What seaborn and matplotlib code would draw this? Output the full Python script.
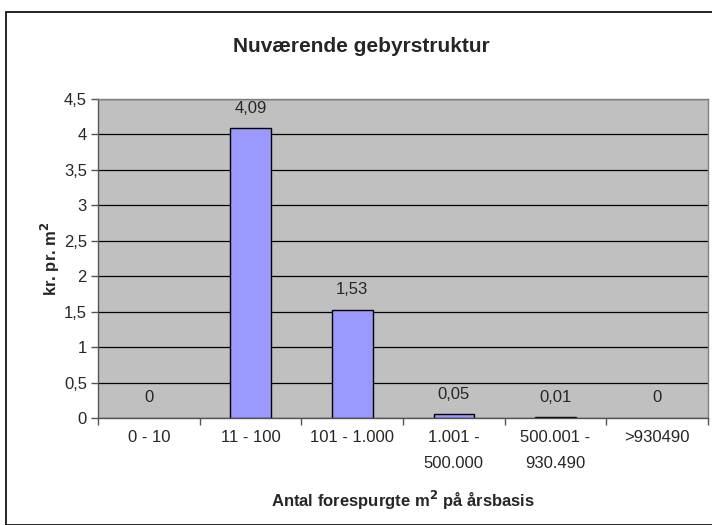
import matplotlib
matplotlib.use("Agg")
import matplotlib.pyplot as plt
import seaborn as sns
import numpy as np
import pandas as pd
from matplotlib.patches import Rectangle

# --- DATA ---
kategorier = ["0 - 10", "11 - 100", "101 - 1.000", "1.001 -\n500.000",
              "500.001 -\n930.490", ">930490"]
gebyr = [0, 4.09, 1.53, 0.05, 0.01, 0]
y_ticks = [0, 0.5, 1, 1.5, 2, 2.5, 3, 3.5, 4, 4.5]

df = pd.DataFrame({"kategori": kategorier, "gebyr": gebyr})

sns.set_theme(style="white")
plt.rcParams["font.family"] = ["Liberation Sans", "DejaVu Sans"]

fig = plt.figure(figsize=(7.12, 5.25), dpi=100)
ax = fig.add_axes([98 / 712, 1 - 418 / 525, (708 - 98) / 712, (418 - 99) / 525])

sns.barplot(data=df, x="kategori", y="gebyr", color="#9999FF", width=0.4,
            edgecolor="black", linewidth=1, saturation=1, ax=ax)
# søjler med værdien 0 vises ikke
for patch, v in zip(ax.patches, gebyr):
    if v == 0:
        patch.set_linewidth(0)

ax.set_facecolor("#C0C0C0")
ax.set_ylim(0, 4.5)
ax.set_xlim(-0.5, len(kategorier) - 0.5)
ax.set_yticks(y_ticks)
ax.set_yticklabels([f"{v:g}".replace(".", ",") for v in y_ticks], fontsize=12)
ax.yaxis.grid(True, color="black", linewidth=0.9)
ax.set_axisbelow(True)

# kategorietiketter uden tick, tick-streger mellem kategorier
ax.set_xticks(range(len(kategorier)))
ax.set_xticklabels(kategorier, fontsize=12, linespacing=1.85)
ax.set_xticks(np.arange(-0.5, len(kategorier)), minor=True)
ax.tick_params(axis="x", which="major", length=0, pad=9)
ax.tick_params(axis="x", which="minor", length=5, width=1, color="#555555",
               direction="out", bottom=True)
ax.tick_params(axis="y", length=5, width=1, color="#555555", direction="out",
               left=True, pad=3, labelsize=12)
for lbl in ax.get_xticklabels():
    lbl.set_verticalalignment("top")

for side in ["top", "right"]:
    ax.spines[side].set_color("#808080")
for side in ["left", "bottom"]:
    ax.spines[side].set_color("#555555")
for s in ax.spines.values():
    s.set_linewidth(1)

# værdietiketter
for i, v in enumerate(gebyr):
    ax.annotate(f"{v:g}".replace(".", ","), (i, v), xytext=(0, 9),
                textcoords="offset points", ha="center", va="bottom", fontsize=12)

ax.set_xlabel("Antal forespurgte m$^\\mathbf{2}$ på årsbasis", fontsize=12,
              fontweight="bold", va="center")
ax.xaxis.set_label_coords(0.5, -(500 - 418) / 319)
ax.set_ylabel("kr. pr. m$^\\mathbf{2}$", fontsize=12, fontweight="bold", va="center")
ax.yaxis.set_label_coords(-(98 - 50) / 610, 0.5)
fig.text(361 / 712, 1 - 47 / 525, "Nuværende gebyrstruktur", ha="center",
         va="center", fontsize=15, fontweight="bold")

# ramme om hele diagrammet
fig.patches.append(Rectangle((6 / 712, 0), 1, 1 - 12 / 525, transform=fig.transFigure,
                             fill=False, edgecolor="black", linewidth=1.2))

fig.savefig("out.png", dpi=100)
